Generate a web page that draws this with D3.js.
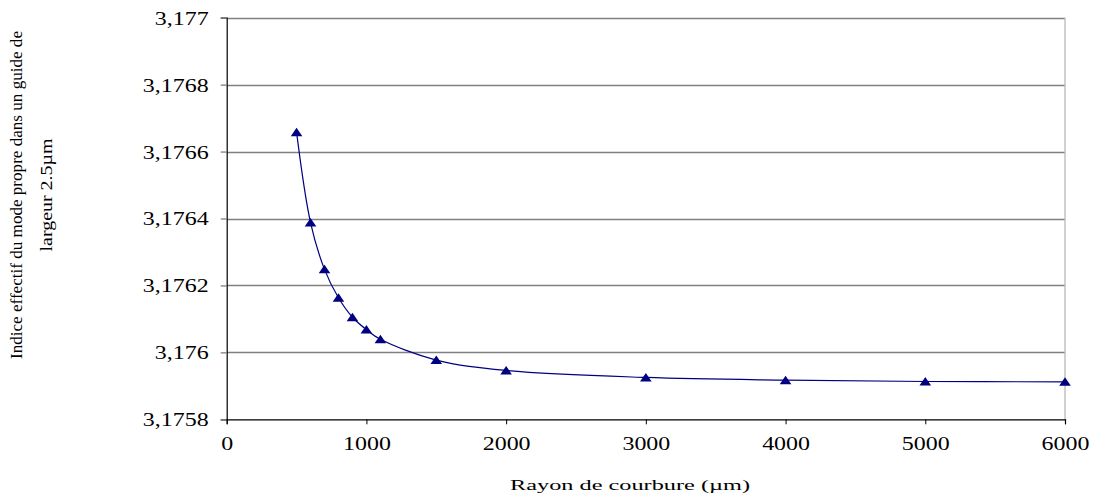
<!DOCTYPE html>
<html>
<head>
<meta charset="utf-8">
<script src="https://cdn.jsdelivr.net/npm/d3@7"></script>
<style>
  html, body { margin: 0; padding: 0; background: #fff; }
  svg { display: block; font-family: "Liberation Serif", "Times New Roman", serif; }
</style>
</head>
<body>
<svg id="chart" width="1097" height="495"></svg>
<script>
// ---- data ----
const radii = [500, 600, 700, 800, 900, 1000, 1100, 1500, 2000, 3000, 4000, 5000, 6000];
const indices = [3.176658, 3.176388, 3.176248, 3.176163, 3.176105, 3.176068, 3.176039,
                 3.175977, 3.175946, 3.175925, 3.175917, 3.175913, 3.175912];
const xTicks = [0, 1000, 2000, 3000, 4000, 5000, 6000];
const yTicks = [3.1758, 3.176, 3.1762, 3.1764, 3.1766, 3.1768, 3.177];
const xTitle = "Rayon de courbure (µm)";
const yTitleLines = ["Indice effectif du mode propre dans un guide de", "largeur 2.5µm"];

// ---- layout ----
const FONT = "'Liberation Serif', 'Times New Roman', serif";
const svg = d3.select("#chart");
const L = 226.7, R = 1065, T = 17.7, B = 419.3;
const x = d3.scaleLinear().domain([0, 6000]).range([L, R]);
const y = d3.scaleLinear().domain([3.1758, 3.177]).range([B, T]);
const fmt = v => String(+v.toFixed(4)).replace(".", ",");

function stretch(sel, factor) {
  sel.each(function () {
    const w = this.getComputedTextLength();
    d3.select(this).attr("textLength", w * factor).attr("lengthAdjust", "spacingAndGlyphs");
  });
}

// gridlines
svg.append("g").selectAll("line").data(yTicks.slice(1)).join("line")
  .attr("x1", L).attr("x2", R)
  .attr("y1", d => Math.round(y(d)) + 0.5).attr("y2", d => Math.round(y(d)) + 0.5)
  .attr("stroke", "#808080").attr("stroke-width", 1.3);

// right border
svg.append("line").attr("x1", R).attr("x2", R).attr("y1", T).attr("y2", B)
  .attr("stroke", "#b8b8b8").attr("stroke-width", 1.3);

// y axis
const yAxis = svg.append("g").attr("transform", `translate(${L},0)`)
  .call(d3.axisLeft(y).tickValues(yTicks).tickFormat(fmt).tickSize(6).tickPadding(12));
yAxis.attr("font-family", FONT);
yAxis.select(".domain").attr("stroke", "#000").attr("stroke-width", 1.2);
yAxis.selectAll(".tick line").attr("stroke", "#808080").attr("stroke-width", 1.3);
yAxis.selectAll(".tick text").attr("font-size", 18).attr("fill", "#000")
  .attr("font-family", FONT).attr("dy", "0.36em");
stretch(yAxis.selectAll(".tick text"), 1.33);

// x axis
const xAxis = svg.append("g").attr("transform", `translate(0,${B})`)
  .call(d3.axisBottom(x).tickValues(xTicks).tickFormat(d3.format("d")).tickSize(5).tickPadding(17));
xAxis.attr("font-family", FONT);
xAxis.select(".domain").attr("stroke", "#000").attr("stroke-width", 1.2);
xAxis.selectAll(".tick line").attr("stroke", "#000").attr("stroke-width", 1);
xAxis.selectAll(".tick text").attr("font-size", 18).attr("fill", "#000")
  .attr("font-family", FONT).attr("dy", "0.5em");
stretch(xAxis.selectAll(".tick text"), 1.33);

// line
const pts = radii.map((r, i) => [r, indices[i]]);
svg.append("path").datum(pts)
  .attr("fill", "none").attr("stroke", "#000080").attr("stroke-width", 1.2)
  .attr("d", d3.line().x(d => x(d[0])).y(d => y(d[1])).curve(d3.curveCatmullRom.alpha(0.5)));

// markers
svg.append("g").selectAll("path").data(pts).join("path")
  .attr("transform", d => `translate(${x(d[0])},${y(d[1])})`)
  .attr("d", "M0,-4.5 L5.8,4 L-5.8,4 Z")
  .attr("fill", "#000080");

// x title
svg.append("text").attr("x", 630).attr("y", 490).attr("text-anchor", "middle")
  .attr("font-family", FONT).attr("font-size", 15).attr("fill", "#000")
  .attr("textLength", 240).attr("lengthAdjust", "spacingAndGlyphs")
  .text(xTitle);

// y title
const yt = svg.append("g").attr("transform", "translate(0,195) rotate(-90)");
yt.append("text").attr("x", 0).attr("y", 22).attr("text-anchor", "middle")
  .attr("font-family", FONT).attr("font-size", 16).attr("fill", "#000")
  .attr("textLength", 328).attr("lengthAdjust", "spacingAndGlyphs")
  .text(yTitleLines[0]);
yt.append("text").attr("x", 0).attr("y", 52).attr("text-anchor", "middle")
  .attr("font-family", FONT).attr("font-size", 16).attr("fill", "#000")
  .attr("textLength", 113).attr("lengthAdjust", "spacingAndGlyphs")
  .text(yTitleLines[1]);
</script>
</body>
</html>
